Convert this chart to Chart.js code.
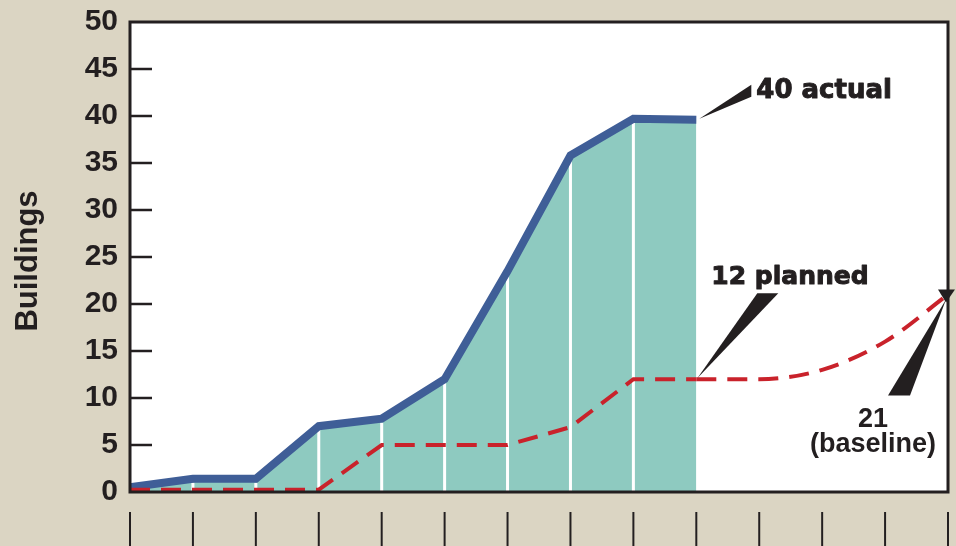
<!DOCTYPE html>
<html>
<head>
<meta charset="utf-8">
<script src="https://cdn.jsdelivr.net/npm/chart.js@4.4.1/dist/chart.umd.min.js"></script>
<style>
  html, body { margin: 0; padding: 0; background: #dbd5c3; }
  canvas { display: block; }
</style>
</head>
<body>
<canvas id="chart" width="956" height="546"></canvas>
<script>
// Data
const periods = ['P1', 'P2', 'P3', 'P4', 'P5', 'P6', 'P7', 'P8', 'P9', 'P10', 'P11', 'P12', 'P13', 'P14'];
const actualBuildings = [0.5, 1.4, 1.4, 7.0, 7.8, 12.0, 23.5, 35.8, 39.7, 39.6, null, null, null, null];
const plannedBuildings = [0.25, 0.25, 0.25, 0.25, 5.0, 5.0, 5.0, 6.9, 12, 12, 12, 13, 16, 21];
const yTicks = [0, 5, 10, 15, 20, 25, 30, 35, 40, 45, 50];
const yTitle = 'Buildings';
const actualLabel = '40 actual';
const plannedLabel = '12 planned';
const baselineLabel = ['21', '(baseline)'];

// Index where the actual line stops and the planned curve starts
const lastActual = 9;

const INK = '#231f20';
const BG = '#dbd5c3';
const BLUE = '#3f5e97';
const TEAL = '#8ecac0';
const RED = '#c9222b';

// Planned line split in two: straight part, then smooth tail
const plannedStraight = plannedBuildings.map((v, i) => i <= lastActual ? v : null);
const plannedCurve = plannedBuildings.map((v, i) => i >= lastActual ? v : null);

function tri(ctx, pts) {
    ctx.beginPath();
    ctx.moveTo(pts[0][0], pts[0][1]);
    ctx.lineTo(pts[1][0], pts[1][1]);
    ctx.lineTo(pts[2][0], pts[2][1]);
    ctx.closePath();
    ctx.fill();
}

// heavy text: fill plus a thin stroke
function heavyText(ctx, text, x, y) {
    ctx.fillText(text, x, y);
    ctx.strokeText(text, x, y);
}

const decor = {
    id: 'decor',
    beforeDraw(chart) {
        const { ctx, chartArea: a } = chart;
        ctx.save();
        ctx.fillStyle = BG;
        ctx.fillRect(0, 0, chart.width, chart.height);
        ctx.fillStyle = '#ffffff';
        ctx.fillRect(a.left, a.top, a.right - a.left, a.bottom - a.top);
        ctx.restore();
    },
    beforeDatasetDraw(chart, args) {
        // white separators inside the filled area, under the blue line
        if (args.index !== 2) return;
        const { ctx, chartArea: a, scales: { x, y } } = chart;
        ctx.save();
        ctx.strokeStyle = '#ffffff';
        ctx.lineWidth = 3;
        for (let i = 1; i < lastActual; i++) {
            const px = x.getPixelForValue(i);
            ctx.beginPath();
            ctx.moveTo(px, y.getPixelForValue(actualBuildings[i]) + 4);
            ctx.lineTo(px, a.bottom - 1);
            ctx.stroke();
        }
        ctx.restore();
    },
    afterDatasetsDraw(chart) {
        const { ctx, chartArea: a, scales: { x, y } } = chart;
        ctx.save();

        // frame
        ctx.strokeStyle = INK;
        ctx.lineWidth = 3;
        ctx.strokeRect(a.left, a.top, a.right - a.left, a.bottom - a.top);

        // inner y ticks
        ctx.lineWidth = 2.5;
        yTicks.slice(1, -1).forEach(v => {
            const py = y.getPixelForValue(v);
            ctx.beginPath();
            ctx.moveTo(a.left, py);
            ctx.lineTo(a.left + 22, py);
            ctx.stroke();
        });

        // x tick marks under the plot
        ctx.lineWidth = 2;
        periods.forEach((p, i) => {
            const px = x.getPixelForValue(i);
            ctx.beginPath();
            ctx.moveTo(px, a.bottom + 20);
            ctx.lineTo(px, chart.height);
            ctx.stroke();
        });

        // y axis title
        ctx.fillStyle = INK;
        ctx.save();
        ctx.translate(37, (a.top + a.bottom) / 2 + 4);
        ctx.rotate(-Math.PI / 2);
        ctx.font = 'bold 31px "Liberation Sans", Arial, sans-serif';
        ctx.textAlign = 'center';
        ctx.textBaseline = 'alphabetic';
        ctx.fillText(yTitle, 0, 0);
        ctx.restore();

        ctx.lineWidth = 1;
        ctx.lineJoin = 'round';

        // "40 actual"
        const ax = x.getPixelForValue(lastActual);
        const ay = y.getPixelForValue(actualBuildings[lastActual]);
        tri(ctx, [[ax + 3, ay - 1], [ax + 55, ay - 35], [ax + 55, ay - 23]]);
        ctx.font = 'bold 26px "DejaVu Sans", sans-serif';
        ctx.textAlign = 'left';
        heavyText(ctx, actualLabel, ax + 60, ay - 22);

        // "12 planned"
        const px = x.getPixelForValue(lastActual);
        const py = y.getPixelForValue(plannedBuildings[lastActual]);
        tri(ctx, [[px + 1, py - 1], [px + 61, py - 86], [px + 82, py - 86]]);
        ctx.font = 'bold 25px "DejaVu Sans", sans-serif';
        heavyText(ctx, plannedLabel, px + 15, py - 95);

        // "21 (baseline)"
        const last = periods.length - 1;
        const bx = x.getPixelForValue(last);
        const by = y.getPixelForValue(plannedBuildings[last]);
        tri(ctx, [[bx - 10, by - 5], [bx + 7, by - 5], [bx - 2, by + 8]]);
        tri(ctx, [[bx - 2, by + 5], [bx - 60, by + 101], [bx - 38, by + 101]]);
        ctx.font = 'bold 27px "Liberation Sans", Arial, sans-serif';
        ctx.textAlign = 'center';
        ctx.fillText(baselineLabel[0], bx - 75, by + 132);
        ctx.fillText(baselineLabel[1], bx - 75, by + 157);

        ctx.restore();
    }
};

new Chart(document.getElementById('chart'), {
    type: 'line',
    data: {
        labels: periods,
        datasets: [
            {
                label: 'Planned',
                data: plannedStraight,
                borderColor: RED,
                borderWidth: 4,
                borderDash: [20, 11],
                pointRadius: 0,
                fill: false,
                tension: 0,
                spanGaps: false
            },
            {
                label: 'Planned (baseline)',
                data: plannedCurve,
                borderColor: RED,
                borderWidth: 4,
                borderDash: [20, 11],
                pointRadius: 0,
                fill: false,
                cubicInterpolationMode: 'monotone',
                spanGaps: false
            },
            {
                label: 'Actual',
                data: actualBuildings,
                borderColor: BLUE,
                backgroundColor: TEAL,
                borderWidth: 8,
                pointRadius: 0,
                fill: 'origin',
                tension: 0,
                spanGaps: false
            }
        ]
    },
    options: {
        responsive: false,
        animation: false,
        layout: { padding: { top: 14, right: 8, left: 0, bottom: 0 } },
        plugins: {
            legend: { display: false },
            tooltip: { enabled: false }
        },
        scales: {
            x: {
                grid: { display: false },
                border: { display: false },
                ticks: { display: false },
                afterFit: scale => { scale.height = 54; }
            },
            y: {
                min: 0,
                max: 50,
                afterBuildTicks: scale => { scale.ticks = yTicks.map(v => ({ value: v })); },
                grid: { display: false },
                border: { display: false },
                ticks: {
                    padding: 4,
                    color: INK,
                    font: { family: '"Liberation Sans", Arial, sans-serif', weight: 'bold', size: 30 }
                },
                afterFit: scale => { scale.width = 130; }
            }
        }
    },
    plugins: [decor]
});
</script>
</body>
</html>
